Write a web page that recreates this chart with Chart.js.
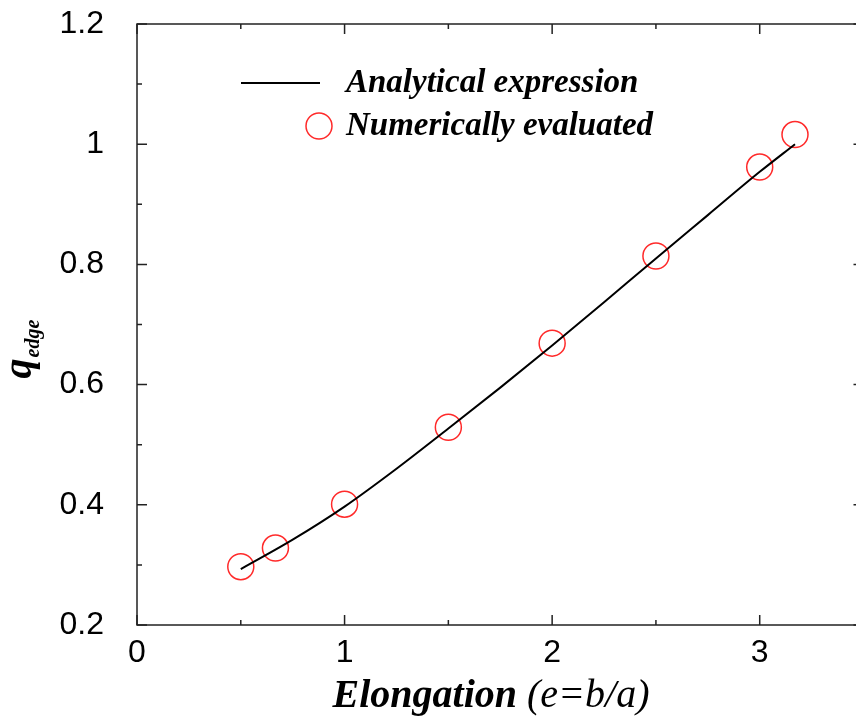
<!DOCTYPE html>
<html>
<head>
<meta charset="utf-8">
<script src="https://cdn.jsdelivr.net/npm/chart.js@4.4.0/dist/chart.umd.min.js"></script>
<style>
html, body { margin: 0; padding: 0; background: #fff; overflow: hidden; }
#wrap { width: 878px; height: 725px; }
</style>
</head>
<body>
<div id="wrap"><canvas id="grafica" width="878" height="725"></canvas></div>
<script>
// analytical curve q_edge(e)
const curveX = [0.5, 0.75, 1.0, 1.25, 1.5, 1.75, 2.0, 2.25, 2.5, 2.75, 3.0, 3.17];
const curveY = [0.293, 0.342, 0.397, 0.460, 0.527, 0.595, 0.665, 0.737, 0.810, 0.882, 0.954, 1.0];
// numerically evaluated points
const pointsX = [0.5, 0.667, 1.0, 1.5, 2.0, 2.5, 3.0, 3.17];
const pointsY = [0.297, 0.328, 0.401, 0.529, 0.669, 0.814, 0.962, 1.016];

const xTicks = [0, 1, 2, 3];
const yTicks = [0.2, 0.4, 0.6, 0.8, 1, 1.2];
const xMinor = [0.5, 1.5, 2.5];
const yMinor = [0.3, 0.5, 0.7, 0.9, 1.1];
const seriesNames = ['Analytical expression', 'Numerically evaluated'];

const graph = document.querySelector("#grafica");

const serif = '"Liberation Serif", "Times New Roman", serif';
const sans = '"Liberation Sans", Helvetica, Arial, sans-serif';

// frame, inward ticks, legend and axis titles
const decor = {
	id: 'decor',
	afterDraw(chart) {
		const ctx = chart.ctx;
		const a = chart.chartArea;
		const xs = chart.scales.x, ys = chart.scales.y;
		ctx.save();
		ctx.strokeStyle = '#222';
		ctx.lineWidth = 1.5;
		ctx.strokeRect(a.left, a.top, a.right - a.left, a.bottom - a.top);

		ctx.beginPath();
		xTicks.concat(xMinor).forEach(v => {
			const px = xs.getPixelForValue(v);
			const len = xMinor.includes(v) ? 5 : 10;
			ctx.moveTo(px, a.bottom); ctx.lineTo(px, a.bottom - len);
			ctx.moveTo(px, a.top); ctx.lineTo(px, a.top + len);
		});
		yTicks.concat(yMinor).forEach(v => {
			const py = ys.getPixelForValue(v);
			const len = yMinor.includes(v) ? 5 : 10;
			ctx.moveTo(a.left, py); ctx.lineTo(a.left + len, py);
			ctx.moveTo(a.right, py); ctx.lineTo(a.right - len, py);
		});
		ctx.stroke();

		// legend
		const ds = chart.data.datasets;
		const lx = a.left + 104;
		const r1 = a.top + 59, r2 = a.top + 102;
		ctx.strokeStyle = ds[0].borderColor;
		ctx.lineWidth = ds[0].borderWidth;
		ctx.beginPath();
		ctx.moveTo(lx, r1); ctx.lineTo(lx + 79, r1);
		ctx.stroke();
		ctx.strokeStyle = ds[1].borderColor;
		ctx.lineWidth = ds[1].borderWidth;
		ctx.beginPath();
		ctx.arc(lx + 78, r2, ds[1].pointRadius, 0, Math.PI * 2);
		ctx.stroke();
		ctx.fillStyle = '#000';
		ctx.font = 'italic bold 33px ' + serif;
		ctx.textBaseline = 'middle';
		ctx.textAlign = 'left';
		ctx.fillText(seriesNames[0], lx + 105, r1);
		ctx.fillText(seriesNames[1], lx + 105, r2);

		// x title
		ctx.textBaseline = 'alphabetic';
		const t1 = 'Elongation', t2 = ' (e=b/a)';
		ctx.font = 'italic bold 40px ' + serif;
		const w1 = ctx.measureText(t1).width;
		ctx.font = 'italic 40px ' + serif;
		const w2 = ctx.measureText(t2).width;
		const cx = 491;
		ctx.font = 'italic bold 40px ' + serif;
		ctx.fillText(t1, cx - (w1 + w2) / 2, 707);
		ctx.font = 'italic 40px ' + serif;
		ctx.fillText(t2, cx - (w1 + w2) / 2 + w1, 707);

		// y title, q with subscript
		ctx.translate(a.left - 106, (a.top + a.bottom) / 2 + 54);
		ctx.rotate(-Math.PI / 2);
		ctx.font = 'italic bold 40px ' + serif;
		ctx.fillText('q', 0, 0);
		const wq = ctx.measureText('q').width;
		ctx.font = 'italic bold 20px ' + serif;
		ctx.fillText('edge', wq + 1, 8);
		ctx.restore();
	}
};

const data = {
	datasets: [{
		label: seriesNames[0],
		data: curveX.map((x, i) => ({x: x, y: curveY[i]})),
		borderColor: '#000',
		borderWidth: 2,
		pointRadius: 0,
		cubicInterpolationMode: 'monotone',
		fill: false
	}, {
		label: seriesNames[1],
		data: pointsX.map((x, i) => ({x: x, y: pointsY[i]})),
		showLine: false,
		borderColor: '#ff2a2a',
		backgroundColor: 'rgba(0,0,0,0)',
		borderWidth: 1.5,
		pointRadius: 13,
		pointStyle: 'circle'
	}]
};

const config = {
	type: 'line',
	data: data,
	plugins: [decor],
	options: {
		responsive: false,
		animation: false,
		devicePixelRatio: 1,
		layout: { padding: { top: 24, right: 3, left: 0, bottom: 0 } },
		plugins: { legend: { display: false }, tooltip: { enabled: false } },
		scales: {
			x: {
				type: 'linear',
				min: 0,
				max: 3.5,
				afterBuildTicks: s => { s.ticks = xTicks.map(v => ({value: v})); },
				afterFit: s => { s.height = 100; s.paddingLeft = 0; s.paddingRight = 0; },
				grid: { display: false },
				border: { display: false },
				ticks: { color: '#000', font: { family: sans, size: 32 }, padding: 1, maxRotation: 0 }
			},
			y: {
				type: 'linear',
				min: 0.2,
				max: 1.2,
				afterBuildTicks: s => { s.ticks = yTicks.map(v => ({value: v})); },
				afterFit: s => { s.width = 137; s.paddingTop = 0; s.paddingBottom = 0; },
				grid: { display: false },
				border: { display: false },
				ticks: { color: '#000', font: { family: sans, size: 32 }, padding: 25, callback: v => String(v) }
			}
		}
	}
};
new Chart(graph, config);
</script>
</body>
</html>
